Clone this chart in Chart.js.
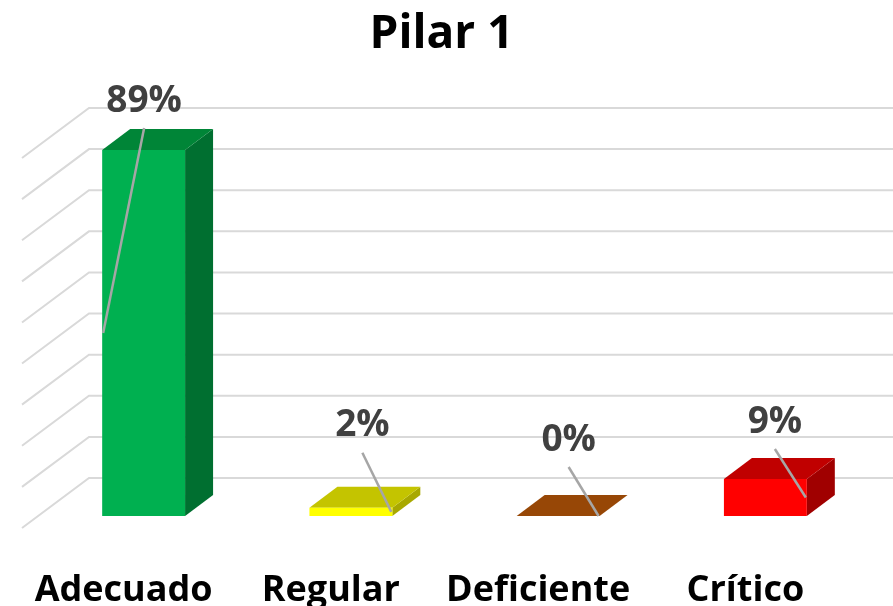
<!DOCTYPE html>
<html>
<head>
<meta charset="utf-8">
<title>Pilar 1</title>
<script src="https://cdn.jsdelivr.net/npm/chart.js@4"></script>
<style>
    html, body { margin: 0; padding: 0; background: #fff; }
    canvas { display: block; }
</style>
</head>
<body>
<canvas id="chart" width="893" height="606"></canvas>
<script>
const categories = ['Adecuado', 'Regular', 'Deficiente', 'Crítico'];
const values = [89, 2, 0, 9];
const frontColors = ['#00B050', '#FFFF00', '#974706', '#FF0000'];
const topColors = ['#008537', '#C4C400', '#974706', '#C00000'];
const sideColors = ['#006F30', '#A8A800', '#974706', '#A00000'];
const gridTicks = [0, 10, 20, 30, 40, 50, 60, 70, 80, 90];

// label position relative to the bar (front top centre), and which edge the leader goes to
const labelShiftX = [0.5, 11.5, 10.5, 9.5];
const labelShiftY = [-49, -82, -76, -57];
const leaderEdge = [-1, 1, 1, 1];

const barDepthX = 28, barDepthY = 21;
const wallDepthX = 67, wallDepthY = 50;
const wallRise = 38, wallLeft = 89;

const FONT = '"Open Sans", "Noto Sans", sans-serif';

function poly(ctx, pts, color) {
    ctx.beginPath();
    ctx.moveTo(pts[0][0], pts[0][1]);
    pts.slice(1).forEach(p => ctx.lineTo(p[0], p[1]));
    ctx.closePath();
    ctx.fillStyle = color;
    ctx.fill();
}

const fake3d = {
    id: 'fake3d',
    afterLayout(chart) {
        // title sits a bit left of the plot centre
        chart.titleBlock.left -= 13;
        chart.titleBlock.right -= 13;
    },
    beforeDatasetsDraw(chart) {
        const ctx = chart.ctx;
        const y = chart.scales.y;
        ctx.save();
        // back wall and left wall lines
        ctx.strokeStyle = '#D9D9D9';
        ctx.lineWidth = 2;
        gridTicks.forEach(t => {
            const py = y.getPixelForValue(t) - wallRise;
            ctx.beginPath();
            ctx.moveTo(wallLeft - wallDepthX, py + wallDepthY);
            ctx.lineTo(wallLeft, py);
            ctx.lineTo(chart.width, py);
            ctx.stroke();
        });
        // top and side faces of the bars
        chart.getDatasetMeta(0).data.forEach((bar, i) => {
            const l = bar.x - bar.width / 2, r = bar.x + bar.width / 2;
            const t = bar.y, b = bar.base;
            if (b - t > 0.5) {
                poly(ctx, [[r, t], [r + barDepthX, t - barDepthY], [r + barDepthX, b - barDepthY], [r, b]], sideColors[i]);
            }
            poly(ctx, [[l, t], [l + barDepthX, t - barDepthY], [r + barDepthX, t - barDepthY], [r, t]], topColors[i]);
        });
        ctx.restore();
    },
    afterDatasetsDraw(chart) {
        const ctx = chart.ctx;
        ctx.save();
        chart.getDatasetMeta(0).data.forEach((bar, i) => {
            const lx = bar.x + labelShiftX[i], ly = bar.y + labelShiftY[i];
            // leader line
            ctx.strokeStyle = '#A6A6A6';
            ctx.lineWidth = 2.5;
            ctx.beginPath();
            ctx.moveTo(lx, ly + 27);
            ctx.lineTo(bar.x + leaderEdge[i] * (bar.width / 2 - 1), (bar.y + bar.base) / 2);
            ctx.stroke();
            // value
            ctx.fillStyle = '#404040';
            ctx.font = 'bold 37px ' + FONT;
            ctx.textAlign = 'center';
            ctx.textBaseline = 'middle';
            ctx.fillText(values[i] + '%', lx, ly);
        });
        ctx.restore();
    }
};

new Chart(document.getElementById('chart').getContext('2d'), {
    type: 'bar',
    data: {
        labels: categories,
        datasets: [{
            data: values,
            backgroundColor: frontColors,
            borderWidth: 0,
            categoryPercentage: 1,
            barPercentage: 0.4
        }]
    },
    options: {
        responsive: false,
        animation: false,
        layout: { padding: { left: 40, right: 24, top: 0, bottom: 0 } },
        plugins: {
            legend: { display: false },
            tooltip: { enabled: false },
            title: {
                display: true,
                text: 'Pilar 1',
                color: '#000000',
                font: { family: FONT, size: 46, weight: 'bold', lineHeight: 1.2 },
                padding: { top: 7.4, bottom: 83.4 }
            }
        },
        scales: {
            x: {
                grid: { display: false },
                border: { display: false },
                afterFit(scale) { scale.height = 90; },
                ticks: {
                    color: '#000000',
                    font: { family: FONT, size: 36, weight: 'bold' },
                    padding: 45,
                    labelOffset: -20,
                    maxRotation: 0,
                    autoSkip: false
                }
            },
            y: {
                display: false,
                min: 0,
                max: 90
            }
        }
    },
    plugins: [fake3d]
});
</script>
</body>
</html>
